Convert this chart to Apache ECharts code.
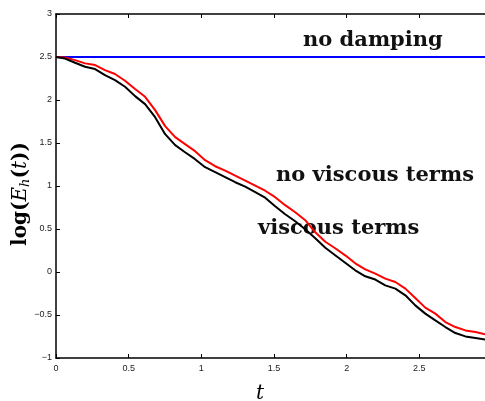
<!DOCTYPE html>
<html>
<head>
<meta charset="utf-8">
<script src="https://cdn.jsdelivr.net/npm/echarts@6/dist/echarts.min.js"></script>
<style>html,body{margin:0;padding:0;background:#fff;}#c{width:485px;height:401px;}</style>
</head>
<body>
<div id="c"></div>
<script>
// time samples (t)
var tVals = [0, 0.062, 0.131, 0.200, 0.269, 0.337, 0.406, 0.475, 0.544, 0.613, 0.682, 0.751, 0.820, 0.888, 0.957, 1.026, 1.095, 1.164, 1.233, 1.302, 1.371, 1.439, 1.508, 1.577, 1.646, 1.715, 1.784, 1.853, 1.921, 1.990, 2.059, 2.128, 2.197, 2.266, 2.335, 2.404, 2.472, 2.541, 2.610, 2.679, 2.748, 2.817, 2.886, 2.955];
// viscous terms (black)
var viscous = [2.5, 2.482, 2.433, 2.387, 2.360, 2.290, 2.232, 2.154, 2.045, 1.952, 1.80, 1.603, 1.475, 1.393, 1.312, 1.219, 1.161, 1.102, 1.044, 0.992, 0.928, 0.864, 0.765, 0.672, 0.590, 0.497, 0.392, 0.282, 0.194, 0.107, 0.020, -0.050, -0.088, -0.155, -0.193, -0.271, -0.388, -0.484, -0.562, -0.640, -0.710, -0.749, -0.768, -0.787];
// no viscous terms (red)
var noViscous = [2.5, 2.494, 2.464, 2.426, 2.406, 2.348, 2.302, 2.224, 2.127, 2.037, 1.882, 1.696, 1.568, 1.487, 1.405, 1.300, 1.230, 1.178, 1.120, 1.062, 1.004, 0.945, 0.870, 0.777, 0.695, 0.602, 0.462, 0.352, 0.276, 0.194, 0.101, 0.031, -0.019, -0.077, -0.116, -0.193, -0.303, -0.414, -0.484, -0.582, -0.640, -0.679, -0.698, -0.725];
// no damping (blue)
var noDampingT = [0, 3];
var noDamping = [2.5, 2.5];
var xTicks = [0, 0.5, 1, 1.5, 2, 2.5, 3];
var yTicks = [-1, -0.5, 0, 0.5, 1, 1.5, 2, 2.5, 3];

function pairs(xs, ys){ return xs.map(function(x,i){ return [x, ys[i]]; }); }
function fmt(v){ return String(v).replace('-', '\u2212'); }

var chart = echarts.init(document.getElementById('c'), null, {renderer:'canvas'});
var tickFont = {fontFamily:'Liberation Sans, Arial, sans-serif', fontSize:9, color:'#222'};
var serif = 'DejaVu Serif, Liberation Serif, serif';
chart.setOption({
  animation:false,
  backgroundColor:'#fff',
  grid:{left:56, top:14, width:436, height:344, containLabel:false, outerBoundsMode:'none'},
  xAxis:[{
    type:'value', min:xTicks[0], max:xTicks[xTicks.length-1], interval:0.5, position:'bottom',
    axisLine:{onZero:false, lineStyle:{color:'#000', width:1.5}},
    axisTick:{inside:true, length:4, lineStyle:{color:'#000'}},
    axisLabel:Object.assign({margin:6, formatter:fmt}, tickFont),
    splitLine:{show:false},
    name:'t', nameLocation:'middle', nameGap:26,
    nameTextStyle:{fontFamily:serif, fontStyle:'italic', fontSize:20, color:'#000', padding:[0,28,0,0]}
  },{
    type:'value', min:xTicks[0], max:xTicks[xTicks.length-1], interval:0.5, position:'top',
    axisLine:{onZero:false, lineStyle:{color:'#000', width:1.5}},
    axisTick:{inside:true, length:4, lineStyle:{color:'#000'}},
    axisLabel:{show:false}, splitLine:{show:false}
  }],
  yAxis:{
    type:'value', min:yTicks[0], max:yTicks[yTicks.length-1], interval:0.5,
    axisLine:{onZero:false, lineStyle:{color:'#000', width:1.5}},
    axisTick:{inside:true, length:4, lineStyle:{color:'#000'}},
    axisLabel:Object.assign({margin:4, formatter:fmt}, tickFont),
    splitLine:{show:false},
    name:'{b|log(}{i|E}{s|h}{b|(}{i|t}{b|))}', nameLocation:'middle', nameGap:24, nameRotate:90,
    nameMoveOverlap:false,
    nameTextStyle:{
      color:'#000',
      padding:[0,0,0,-16],
      rich:{
        b:{fontFamily:serif, fontWeight:'bold', fontSize:20, color:'#000'},
        i:{fontFamily:serif, fontStyle:'italic', fontSize:20, color:'#000'},
        s:{fontFamily:serif, fontStyle:'italic', fontSize:13, color:'#000', padding:[10,0,0,0]}
      }
    }
  },
  series:[
    {type:'line', xAxisIndex:0, data:pairs(noDampingT, noDamping), showSymbol:false, lineStyle:{color:'#0000ff', width:2}, itemStyle:{color:'#0000ff'}},
    {type:'line', xAxisIndex:0, data:pairs(tVals, noViscous), showSymbol:false, lineStyle:{color:'#ff0000', width:2}, itemStyle:{color:'#ff0000'}},
    {type:'line', xAxisIndex:0, data:pairs(tVals, viscous), showSymbol:false, lineStyle:{color:'#000', width:2}, itemStyle:{color:'#000'}}
  ],
  graphic:[
    {type:'text', left:303, top:30, style:{text:'no damping', font:'bold 21px ' + serif, fill:'#111'}},
    {type:'text', left:276, top:165, style:{text:'no viscous terms', font:'bold 21px ' + serif, fill:'#111'}},
    {type:'text', left:258, top:218, style:{text:'viscous terms', font:'bold 21px ' + serif, fill:'#111'}}
  ]
});
</script>
</body>
</html>
